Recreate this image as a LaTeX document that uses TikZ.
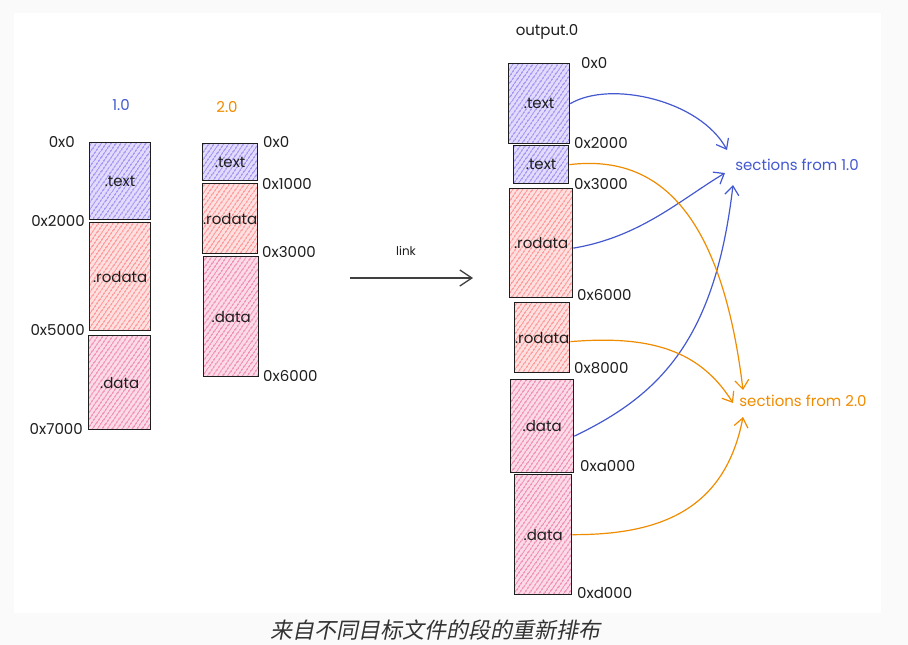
\documentclass[tikz,border=0pt]{standalone}
\usepackage{fontspec}
\setmainfont{Poppins}
\newfontfamily\cjk[FakeSlant=0.2]{Noto Sans CJK SC}
\usetikzlibrary{arrows.meta,patterns.meta}
\definecolor{bg}{HTML}{FAFAFA}
\definecolor{ink}{HTML}{1E1E1E}
\definecolor{capcol}{HTML}{333333}
\definecolor{bluec}{HTML}{4459D0}
\definecolor{orangec}{HTML}{F08C00}
\definecolor{purpfill}{HTML}{E2DBFD}
\definecolor{purpline}{HTML}{8A76EE}
\definecolor{redfill}{HTML}{FFE0E0}
\definecolor{redline}{HTML}{FF7A7A}
\definecolor{pinkfill}{HTML}{FCDAE7}
\definecolor{pinkline}{HTML}{EC6F9E}
\tikzset{
  sec/.style={draw=ink, line width=1.3pt, inner sep=0pt, anchor=north west,
    font=\fontsize{15}{15}\selectfont, text=ink},
  hatch/.style={pattern={Lines[angle=55,distance=4pt,line width=1.1pt]}},
  purp/.style={sec, preaction={fill=purpfill}, hatch, pattern color=purpline},
  redd/.style={sec, preaction={fill=redfill}, hatch, pattern color=redline},
  pink/.style={sec, preaction={fill=pinkfill}, hatch, pattern color=pinkline},
  addrE/.style={anchor=east, inner sep=0pt, font=\fontsize{15}{15}\selectfont, text=ink},
  addrW/.style={anchor=west, inner sep=0pt, font=\fontsize{15}{15}\selectfont, text=ink},
  ttl/.style={inner sep=0pt, font=\fontsize{15}{15}\selectfont},
  conn/.style={line width=1.2pt, -{Straight Barb[length=9pt,width=14pt]}},
}
\begin{document}
\begin{tikzpicture}[x=1pt,y=-1pt]
\useasboundingbox (0,0) rectangle (908,645);
\fill[bg] (0,0) rectangle (908,645);
\fill[white] (14,13) rectangle (881,613);

% column 1.0
\node[ttl, text=bluec] (h1) at (121,105) {1.0};
\node[purp, minimum width=61pt, minimum height=77pt] (t1) at (89,142) {.text};
\node[redd, minimum width=61pt, minimum height=108pt] (r1) at (89,222) {.rodata};
\node[pink, minimum width=62pt, minimum height=94pt] (d1) at (88,335) {.data};
\node[addrE] (a10) at (75,142) {0x0};
\node[addrE] (a11) at (85,221) {0x2000};
\node[addrE] (a12) at (85,330) {0x5000};
\node[addrE] (a13) at (83,429) {0x7000};

% column 2.0
\node[ttl, text=orangec] (h2) at (227,107) {2.0};
\node[purp, minimum width=55pt, minimum height=37pt] (t2) at (202,143) {.text};
\node[redd, minimum width=55pt, minimum height=70pt] (r2) at (202,183) {.rodata};
\node[pink, minimum width=55pt, minimum height=120pt] (d2) at (203,256) {.data};
\node[addrW] (a20) at (263,142) {0x0};
\node[addrW] (a21) at (262,184) {0x1000};
\node[addrW] (a22) at (262,252) {0x3000};
\node[addrW] (a23) at (263,376) {0x6000};

% link arrow
\node[ttl, text=ink, font=\fontsize{12}{12}\selectfont] (lk) at (406,251) {link};
\coordinate (la) at (350,278);
\coordinate (lb) at (473,278);
\draw[line width=1.3pt, draw=ink!85, -{Straight Barb[length=12pt,width=16pt]}] (la) -- (lb);

% output
\node[ttl, text=ink] (ho) at (547,32) {output.0};
\node[purp, minimum width=61pt, minimum height=80pt] (ot1) at (508,63) {.text};
\node[purp, minimum width=55pt, minimum height=38pt] (ot2) at (513,145) {.text};
\node[redd, minimum width=63pt, minimum height=109pt] (or1) at (509,188) {.rodata};
\node[redd, minimum width=55pt, minimum height=70pt] (or2) at (514,302) {.rodata};
\node[pink, minimum width=63pt, minimum height=93pt] (od1) at (510,379) {.data};
\node[pink, minimum width=57pt, minimum height=120pt] (od2) at (514,474) {.data};
\node[addrW] (ao0) at (581,63) {0x0};
\node[addrW] (ao1) at (574,143) {0x2000};
\node[addrW] (ao2) at (574,184) {0x3000};
\node[addrW] (ao3) at (577,295) {0x6000};
\node[addrW] (ao4) at (574,368) {0x8000};
\node[addrW] (ao5) at (580,466) {0xa000};
\node[addrW] (ao6) at (577,593) {0xd000};

% targets
\node[ttl, text=bluec] (s1) at (797,165) {sections from 1.0};
\node[ttl, text=orangec] (s2) at (803,401) {sections from 2.0};
\coordinate (b1) at (727,150);
\coordinate (b2) at (725,173);
\coordinate (b3) at (733,185);
\coordinate (o1) at (743,390);
\coordinate (o2) at (733,403);
\coordinate (o3) at (743,417);

% blue connectors
\draw[conn, bluec] (ot1.east) .. controls (610,80) and (700,100) .. (b1);
\draw[conn, bluec] ([yshift=-5pt]or1.east) .. controls (640,237) and (680,200) .. (b2);
\draw[conn, bluec] ([yshift=-10pt]od1.east) .. controls (660,395) and (715,340) .. (b3);
% orange connectors
\draw[conn, orangec] (ot2.east) .. controls (650,155) and (720,200) .. (o1);
\draw[conn, orangec] ([yshift=-4pt]or2.east) .. controls (650,335) and (700,350) .. (o2);
\draw[conn, orangec] (od2.east) .. controls (660,535) and (725,510) .. (o3);

% caption
\node[inner sep=0pt, text=capcol, font=\cjk\fontsize{22}{22}\selectfont] (cap) at (435,630) {来自不同目标文件的段的重新排布};
\end{tikzpicture}
\end{document}
